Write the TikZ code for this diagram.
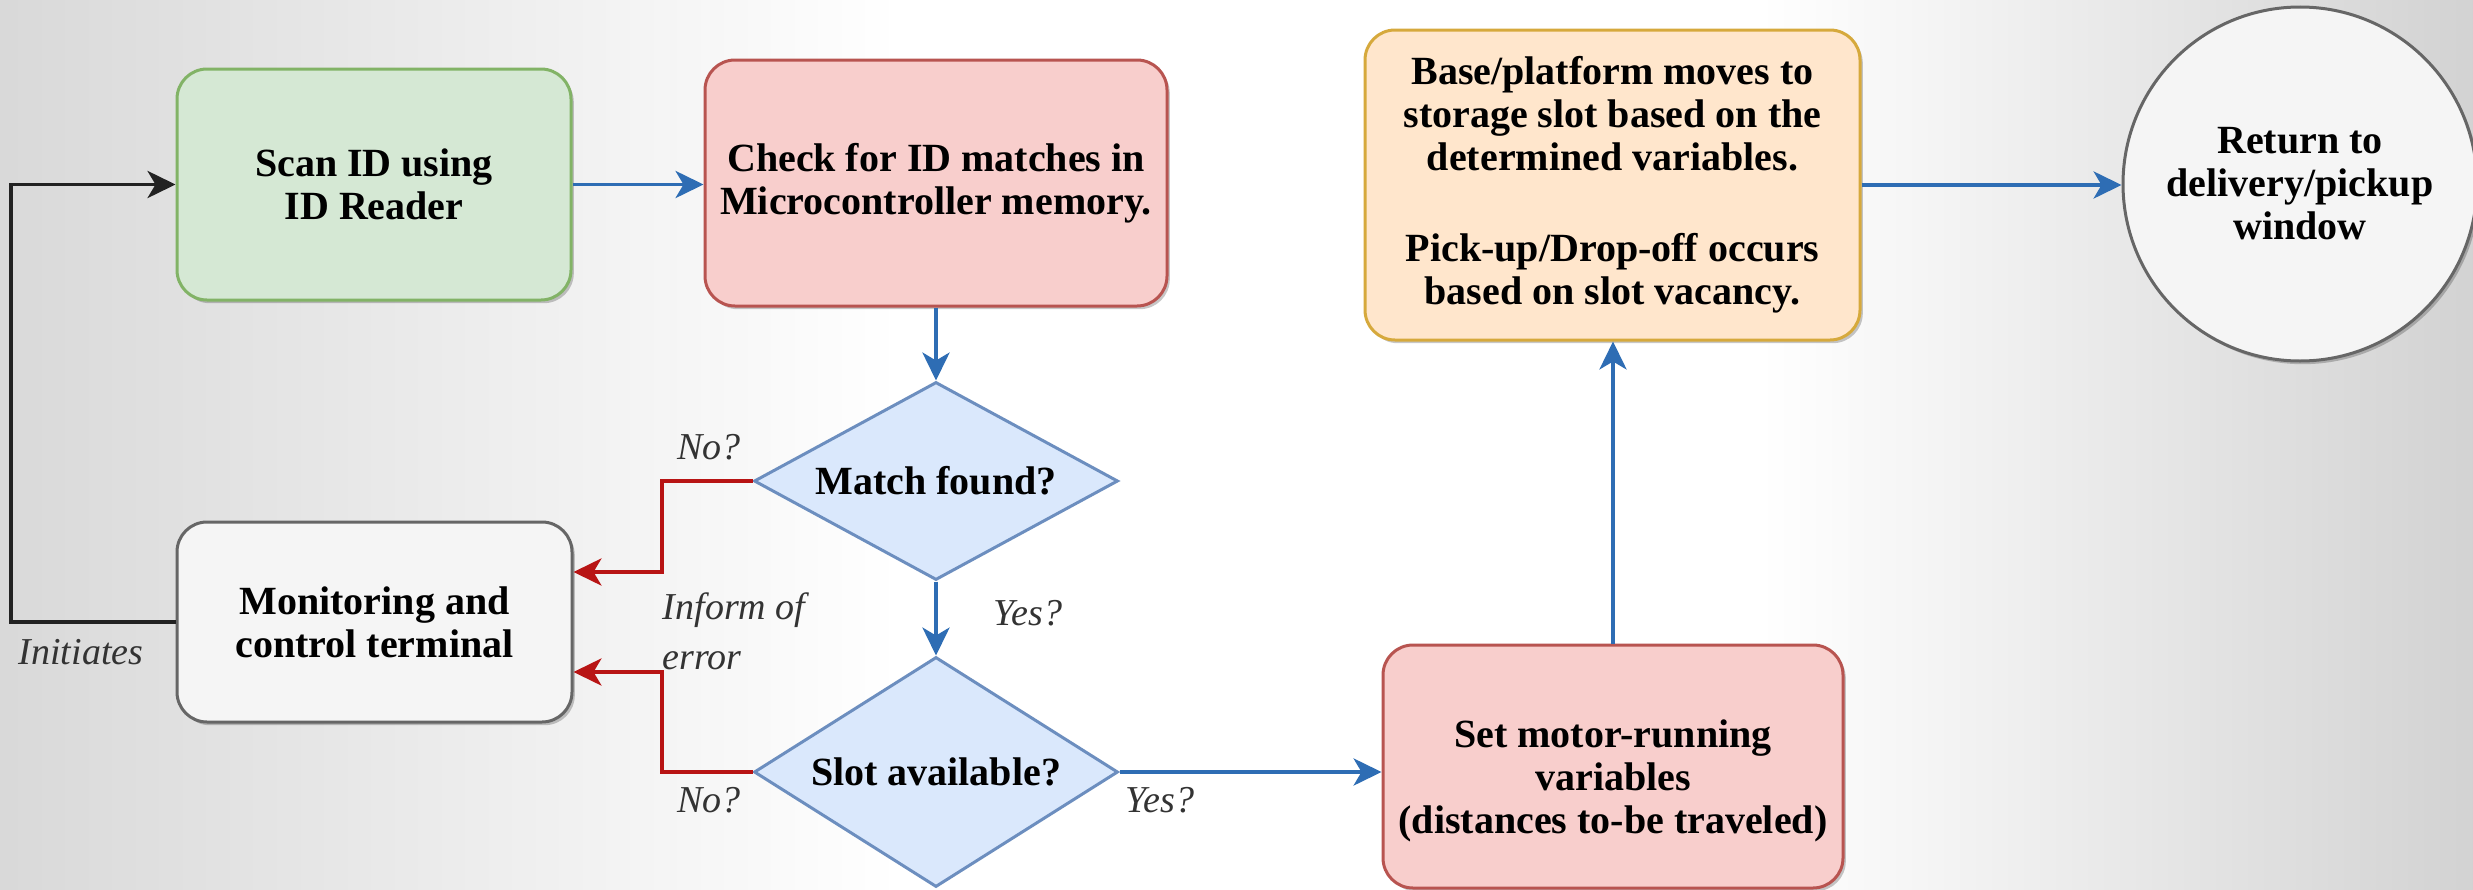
\documentclass[tikz,border=0pt]{standalone}
\usepackage{fontspec}
\setmainfont{Liberation Serif}
\usetikzlibrary{shapes.geometric,arrows.meta,shadows}
\definecolor{gfill}{HTML}{D5E8D4}\definecolor{gdraw}{HTML}{82B366}
\definecolor{rfill}{HTML}{F8CECC}\definecolor{rdraw}{HTML}{B85450}
\definecolor{bfill}{HTML}{DAE8FC}\definecolor{bdraw}{HTML}{6C8EBF}
\definecolor{ofill}{HTML}{FFE6CC}\definecolor{odraw}{HTML}{D6A93C}
\definecolor{kfill}{HTML}{F5F5F5}\definecolor{kdraw}{HTML}{666666}
\definecolor{bline}{HTML}{2E6DB4}
\definecolor{rline}{HTML}{B81414}
\definecolor{kline}{HTML}{222222}
\definecolor{lbl}{HTML}{333333}
\tikzset{
  boxfont/.style={font=\bfseries\fontsize{10}{10.75}\selectfont, text=black, align=center},
  shad/.style={drop shadow={shadow xshift=0.7pt, shadow yshift=-0.8pt, opacity=0.22, fill=black}},
  rbox/.style={boxfont, rectangle, rounded corners=7.5pt, line width=0.75pt, inner sep=0pt, shad},
  dbox/.style={boxfont, diamond, line width=0.75pt, inner sep=0pt, fill=bfill, draw=bdraw},
  lab/.style={font=\itshape\fontsize{9.5}{12.5}\selectfont, text=lbl, inner sep=0pt},
  tipx/.style={-{Stealth[length=7pt,width=6.8pt,inset=2pt]}},
  blueflow/.style={tipx, draw=bline, line width=0.8pt},
  redflow/.style={tipx, draw=rline, line width=0.8pt},
  blackflow/.style={tipx, draw=kline, line width=0.8pt},
}
\begin{document}
\begin{tikzpicture}[x=0.25pt,y=-0.25pt]
\useasboundingbox (0,0) rectangle (2473,889);
% background vignette
\fill[white] (0,0) rectangle (2473,889);
\shade[left color=gray!30, right color=white] (0,0) rectangle (900,889);
\shade[left color=white, right color=gray!35] (1760,0) rectangle (2473,889);

% nodes
\node[rbox, fill=gfill, draw=gdraw, minimum width=98.5pt, minimum height=57.75pt] (scan) at (374,184.5) {Scan ID using\\ID Reader};
\node[rbox, fill=rfill, draw=rdraw, minimum width=115.5pt, minimum height=61.5pt] (check) at (936,183) {Check for ID matches in\\Microcontroller memory.};
\node[dbox, aspect=1.84, minimum width=91pt, minimum height=49.5pt] (match) at (936,481) {Match found?};
\node[dbox, aspect=1.58, minimum width=91pt, minimum height=57.5pt] (slot) at (936,772) {Slot available?};
\node[rbox, fill=kfill, draw=kdraw, minimum width=98.75pt, minimum height=50pt] (monitor) at (374.5,622) {Monitoring and\\control terminal};
\node[rbox, fill=rfill, draw=rdraw, minimum width=115pt, minimum height=60.75pt,
      label={[boxfont, yshift=-3.5pt]center:Set motor-running\\variables\\(distances to-be traveled)}] (motor) at (1613,766.5) {};
\node[rbox, fill=ofill, draw=odraw, minimum width=123.75pt, minimum height=77.5pt] (base) at (1612.5,185) {Base/platform moves to\\storage slot based on the\\determined variables.\\[12pt]Pick-up/Drop-off occurs\\based on slot vacancy.};
\node[boxfont, circle, fill=kfill, draw=kdraw, line width=0.75pt, inner sep=0pt, minimum size=88.5pt, shad] (ret) at (2300,184) {Return to\\delivery/pickup\\window};

% helper coordinates
\coordinate (xk) at (662,0);
\coordinate (xl) at (11,0);

% connectors
\draw[blueflow] (scan.east) -- (scan.east -| check.west);
\draw[blueflow] (check.south) -- (match.north);
\draw[blueflow] (match.south) -- (slot.north);
\draw[blueflow] (slot.east) -- (slot.east -| motor.west);
\draw[blueflow] (motor.north) -- (motor.north |- base.south);
\draw[blueflow] (base.east) -- (base.east -| ret.west);
\draw[redflow] (match.west) -- (match.west -| xk) |- ([yshift=12.5pt]monitor.east);
\draw[redflow] (slot.west) -- (slot.west -| xk) |- ([yshift=-12.5pt]monitor.east);
\draw[blackflow] (monitor.west) -- (monitor.west -| xl) |- (scan.west);

% labels
\node[lab] (linit) at (81,652) {Initiates};
\node[lab] (lno1) at (709,447) {No?};
\node[lab, anchor=west, align=left] (linf) at (662,631) {Inform of\\error};
\node[lab] (lyes1) at (1028,613) {Yes?};
\node[lab] (lno2) at (709,800) {No?};
\node[lab] (lyes2) at (1160,800) {Yes?};
\end{tikzpicture}
\end{document}
